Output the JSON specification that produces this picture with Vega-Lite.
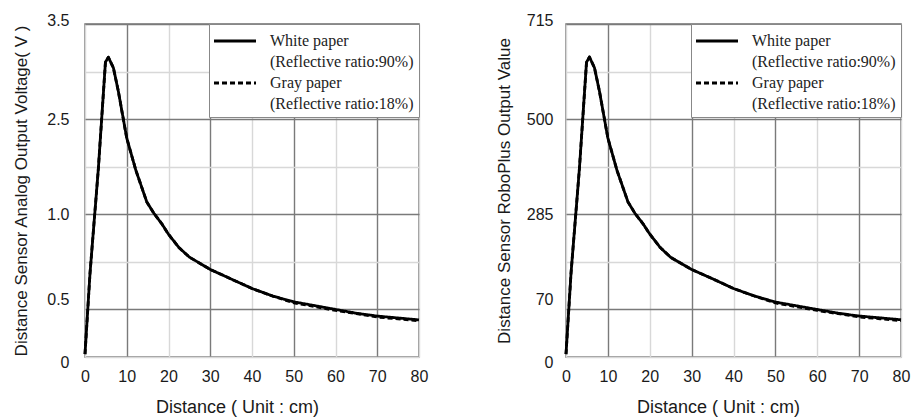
{
  "$schema": "https://vega.github.io/schema/vega-lite/v6.json",
  "padding": {"left": 12, "top": 11, "right": 2, "bottom": 0},
  "background": "white",
  "datasets": {
    "voltage": [
      {"paper": "White paper", "distance": 0, "voltage": 0.03},
      {"paper": "White paper", "distance": 1.2, "voltage": 0.88},
      {"paper": "White paper", "distance": 3.2, "voltage": 1.98},
      {"paper": "White paper", "distance": 4.9, "voltage": 3.1},
      {"paper": "White paper", "distance": 5.6, "voltage": 3.15},
      {"paper": "White paper", "distance": 6.8, "voltage": 3.04},
      {"paper": "White paper", "distance": 8, "voltage": 2.79},
      {"paper": "White paper", "distance": 10, "voltage": 2.3},
      {"paper": "White paper", "distance": 12.2, "voltage": 1.96},
      {"paper": "White paper", "distance": 14.8, "voltage": 1.63},
      {"paper": "White paper", "distance": 16.5, "voltage": 1.51},
      {"paper": "White paper", "distance": 18.4, "voltage": 1.4},
      {"paper": "White paper", "distance": 20, "voltage": 1.29},
      {"paper": "White paper", "distance": 22.5, "voltage": 1.15},
      {"paper": "White paper", "distance": 25, "voltage": 1.05},
      {"paper": "White paper", "distance": 30, "voltage": 0.92},
      {"paper": "White paper", "distance": 35, "voltage": 0.82},
      {"paper": "White paper", "distance": 40, "voltage": 0.72},
      {"paper": "White paper", "distance": 45, "voltage": 0.64},
      {"paper": "White paper", "distance": 50, "voltage": 0.58},
      {"paper": "White paper", "distance": 55, "voltage": 0.54},
      {"paper": "White paper", "distance": 60, "voltage": 0.5},
      {"paper": "White paper", "distance": 65, "voltage": 0.46},
      {"paper": "White paper", "distance": 70, "voltage": 0.43},
      {"paper": "White paper", "distance": 75, "voltage": 0.41},
      {"paper": "White paper", "distance": 80, "voltage": 0.39},
      {"paper": "Gray paper", "distance": 0, "voltage": 0.03},
      {"paper": "Gray paper", "distance": 1.2, "voltage": 0.88},
      {"paper": "Gray paper", "distance": 3.2, "voltage": 1.98},
      {"paper": "Gray paper", "distance": 4.9, "voltage": 3.1},
      {"paper": "Gray paper", "distance": 5.6, "voltage": 3.15},
      {"paper": "Gray paper", "distance": 6.8, "voltage": 3.04},
      {"paper": "Gray paper", "distance": 8, "voltage": 2.79},
      {"paper": "Gray paper", "distance": 10, "voltage": 2.3},
      {"paper": "Gray paper", "distance": 12.2, "voltage": 1.96},
      {"paper": "Gray paper", "distance": 14.8, "voltage": 1.63},
      {"paper": "Gray paper", "distance": 16.5, "voltage": 1.51},
      {"paper": "Gray paper", "distance": 18.4, "voltage": 1.4},
      {"paper": "Gray paper", "distance": 20, "voltage": 1.29},
      {"paper": "Gray paper", "distance": 22.5, "voltage": 1.15},
      {"paper": "Gray paper", "distance": 25, "voltage": 1.05},
      {"paper": "Gray paper", "distance": 30, "voltage": 0.92},
      {"paper": "Gray paper", "distance": 35, "voltage": 0.82},
      {"paper": "Gray paper", "distance": 40, "voltage": 0.72},
      {"paper": "Gray paper", "distance": 45, "voltage": 0.64},
      {"paper": "Gray paper", "distance": 50, "voltage": 0.57},
      {"paper": "Gray paper", "distance": 55, "voltage": 0.53},
      {"paper": "Gray paper", "distance": 60, "voltage": 0.49},
      {"paper": "Gray paper", "distance": 65, "voltage": 0.455},
      {"paper": "Gray paper", "distance": 70, "voltage": 0.42},
      {"paper": "Gray paper", "distance": 75, "voltage": 0.4},
      {"paper": "Gray paper", "distance": 80, "voltage": 0.38}
    ],
    "roboplus": [
      {"paper": "White paper", "distance": 0, "output": 6},
      {"paper": "White paper", "distance": 1.2, "output": 180},
      {"paper": "White paper", "distance": 3.2, "output": 404},
      {"paper": "White paper", "distance": 4.9, "output": 633},
      {"paper": "White paper", "distance": 5.6, "output": 644},
      {"paper": "White paper", "distance": 6.8, "output": 621},
      {"paper": "White paper", "distance": 8, "output": 570},
      {"paper": "White paper", "distance": 10, "output": 470},
      {"paper": "White paper", "distance": 12.2, "output": 400},
      {"paper": "White paper", "distance": 14.8, "output": 333},
      {"paper": "White paper", "distance": 16.5, "output": 308},
      {"paper": "White paper", "distance": 18.4, "output": 286},
      {"paper": "White paper", "distance": 20, "output": 264},
      {"paper": "White paper", "distance": 22.5, "output": 235},
      {"paper": "White paper", "distance": 25, "output": 214},
      {"paper": "White paper", "distance": 30, "output": 188},
      {"paper": "White paper", "distance": 35, "output": 168},
      {"paper": "White paper", "distance": 40, "output": 147},
      {"paper": "White paper", "distance": 45, "output": 131},
      {"paper": "White paper", "distance": 50, "output": 118},
      {"paper": "White paper", "distance": 55, "output": 110},
      {"paper": "White paper", "distance": 60, "output": 102},
      {"paper": "White paper", "distance": 65, "output": 94},
      {"paper": "White paper", "distance": 70, "output": 88},
      {"paper": "White paper", "distance": 75, "output": 84},
      {"paper": "White paper", "distance": 80, "output": 80},
      {"paper": "Gray paper", "distance": 0, "output": 6},
      {"paper": "Gray paper", "distance": 1.2, "output": 180},
      {"paper": "Gray paper", "distance": 3.2, "output": 404},
      {"paper": "Gray paper", "distance": 4.9, "output": 633},
      {"paper": "Gray paper", "distance": 5.6, "output": 644},
      {"paper": "Gray paper", "distance": 6.8, "output": 621},
      {"paper": "Gray paper", "distance": 8, "output": 570},
      {"paper": "Gray paper", "distance": 10, "output": 470},
      {"paper": "Gray paper", "distance": 12.2, "output": 400},
      {"paper": "Gray paper", "distance": 14.8, "output": 333},
      {"paper": "Gray paper", "distance": 16.5, "output": 308},
      {"paper": "Gray paper", "distance": 18.4, "output": 286},
      {"paper": "Gray paper", "distance": 20, "output": 264},
      {"paper": "Gray paper", "distance": 22.5, "output": 235},
      {"paper": "Gray paper", "distance": 25, "output": 214},
      {"paper": "Gray paper", "distance": 30, "output": 188},
      {"paper": "Gray paper", "distance": 35, "output": 168},
      {"paper": "Gray paper", "distance": 40, "output": 147},
      {"paper": "Gray paper", "distance": 45, "output": 131},
      {"paper": "Gray paper", "distance": 50, "output": 116},
      {"paper": "Gray paper", "distance": 55, "output": 108},
      {"paper": "Gray paper", "distance": 60, "output": 100},
      {"paper": "Gray paper", "distance": 65, "output": 93},
      {"paper": "Gray paper", "distance": 70, "output": 86},
      {"paper": "Gray paper", "distance": 75, "output": 82},
      {"paper": "Gray paper", "distance": 80, "output": 78}
    ]
  },
  "spacing": 65,
  "resolve": {"scale": {"strokeDash": "independent"}, "legend": {"strokeDash": "independent"}},
  "hconcat": [
    {
      "width": 334,
      "height": 333,
      "data": {"name": "voltage"},
      "mark": {"type": "line", "color": "black", "strokeWidth": 2.8, "strokeJoin": "round"},
      "encoding": {
        "x": {
          "field": "distance", "type": "quantitative",
          "scale": {"domain": [0, 80], "nice": false},
          "axis": {
            "title": "Distance ( Unit : cm)",
            "values": [0, 10, 20, 30, 40, 50, 60, 70, 80],
            "gridColor": {"condition": {"test": "datum.value % 20 == 10", "value": "#7a7a7a"}, "value": "#d8d8d8"},
            "labelFlush": false,
            "labelPadding": 11,
            "titlePadding": 14,
            "titleFontSize": 18,
            "titleX": 152
          }
        },
        "y": {
          "field": "voltage", "type": "quantitative",
          "scale": {"domain": [0, 3.5], "nice": false},
          "axis": {
            "title": "Distance Sensor Analog Output Voltage( V )",
            "values": [0, 0.5, 1, 1.5, 2, 2.5, 3, 3.5],
            "gridColor": {"condition": {"test": "(datum.value * 2) % 2 == 1", "value": "#7a7a7a"}, "value": "#d8d8d8"},
            "labelExpr": "datum.value == 0 ? '0' : datum.value == 0.5 ? '0.5' : datum.value == 1.5 ? '1.0' : datum.value == 2.5 ? '2.5' : datum.value == 3.5 ? '3.5' : ''",
            "labelOffset": {"condition": [{"test": "datum.value == 0", "value": 5}, {"test": "datum.value == 0.5", "value": -10}, {"test": "datum.value == 3.5", "value": -4}], "value": 0},
            "labelPadding": 16,
            "titlePadding": 16
          }
        },
        "strokeDash": {
          "field": "paper", "type": "nominal",
          "scale": {"domain": ["White paper", "Gray paper"], "range": [[1, 0], [5, 3]]},
          "legend": {
            "title": null,
            "orient": "top-right",
            "offset": 0,
            "padding": 5,
            "fillColor": "white",
            "strokeColor": "#888",
            "symbolType": "M-2,0H2",
            "symbolSize": 441,
            "symbolStrokeWidth": 2.8,
            "symbolStrokeColor": "black",
            "symbolOffset": 9,
            "labelOffset": 23,
            "labelFont": "Liberation Serif",
            "labelFontSize": 16,
            "labelColor": "#222",
            "labelLimit": 400,
            "rowPadding": 1,
            "labelExpr": "datum.label == 'White paper' ? ['White paper', '(Reflective ratio:90%)'] : ['Gray paper', '(Reflective ratio:18%)']"
          }
        }
      }
    },
    {
      "width": 335,
      "height": 333,
      "data": {"name": "roboplus"},
      "mark": {"type": "line", "color": "black", "strokeWidth": 2.8, "strokeJoin": "round"},
      "encoding": {
        "x": {
          "field": "distance", "type": "quantitative",
          "scale": {"domain": [0, 80], "nice": false},
          "axis": {
            "title": "Distance ( Unit : cm)",
            "values": [0, 10, 20, 30, 40, 50, 60, 70, 80],
            "gridColor": {"condition": {"test": "datum.value % 20 == 10", "value": "#7a7a7a"}, "value": "#d8d8d8"},
            "labelFlush": false,
            "labelPadding": 11,
            "titlePadding": 14,
            "titleFontSize": 18,
            "titleX": 152
          }
        },
        "y": {
          "field": "output", "type": "quantitative",
          "scale": {"domain": [0, 715], "nice": false},
          "axis": {
            "title": "Distance Sensor RoboPlus Output Value",
            "values": [0, 102.142857, 204.285714, 306.428571, 408.571429, 510.714286, 612.857143, 715],
            "gridColor": {"condition": {"test": "round(datum.value / 102.142857) % 2 == 1", "value": "#7a7a7a"}, "value": "#d8d8d8"},
            "labelExpr": "datum.value == 0 ? '0' : abs(datum.value - 102.142857) < 1 ? '70' : abs(datum.value - 306.428571) < 1 ? '285' : abs(datum.value - 510.714286) < 1 ? '500' : datum.value == 715 ? '715' : ''",
            "labelOffset": {"condition": [{"test": "datum.value == 0", "value": 5}, {"test": "abs(datum.value - 102.142857) < 1", "value": -10}, {"test": "datum.value == 715", "value": -4}], "value": 0},
            "labelPadding": 13,
            "titlePadding": 13
          }
        },
        "strokeDash": {
          "field": "paper", "type": "nominal",
          "scale": {"domain": ["White paper", "Gray paper"], "range": [[1, 0], [5, 3]]},
          "legend": {
            "title": null,
            "orient": "top-right",
            "offset": 0,
            "padding": 5,
            "fillColor": "white",
            "strokeColor": "#888",
            "symbolType": "M-2,0H2",
            "symbolSize": 441,
            "symbolStrokeWidth": 2.8,
            "symbolStrokeColor": "black",
            "symbolOffset": 9,
            "labelOffset": 23,
            "labelFont": "Liberation Serif",
            "labelFontSize": 16,
            "labelColor": "#222",
            "labelLimit": 400,
            "rowPadding": 1,
            "labelExpr": "datum.label == 'White paper' ? ['White paper', '(Reflective ratio:90%)'] : ['Gray paper', '(Reflective ratio:18%)']"
          }
        }
      }
    }
  ],
  "config": {
    "font": "Liberation Sans",
    "view": {"stroke": "#777", "strokeWidth": 1.5},
    "axis": {
      "grid": true,
      "gridWidth": 1.4,
      "ticks": false,
      "domain": false,
      "labelFontSize": 16,
      "labelColor": "#1a1a1a",
      "labelOverlap": false,
      "titleFontSize": 17,
      "titleFontWeight": "normal",
      "titleColor": "#1a1a1a"
    },
    "style": {"guide-label": {"lineHeight": 21}}
  }
}
